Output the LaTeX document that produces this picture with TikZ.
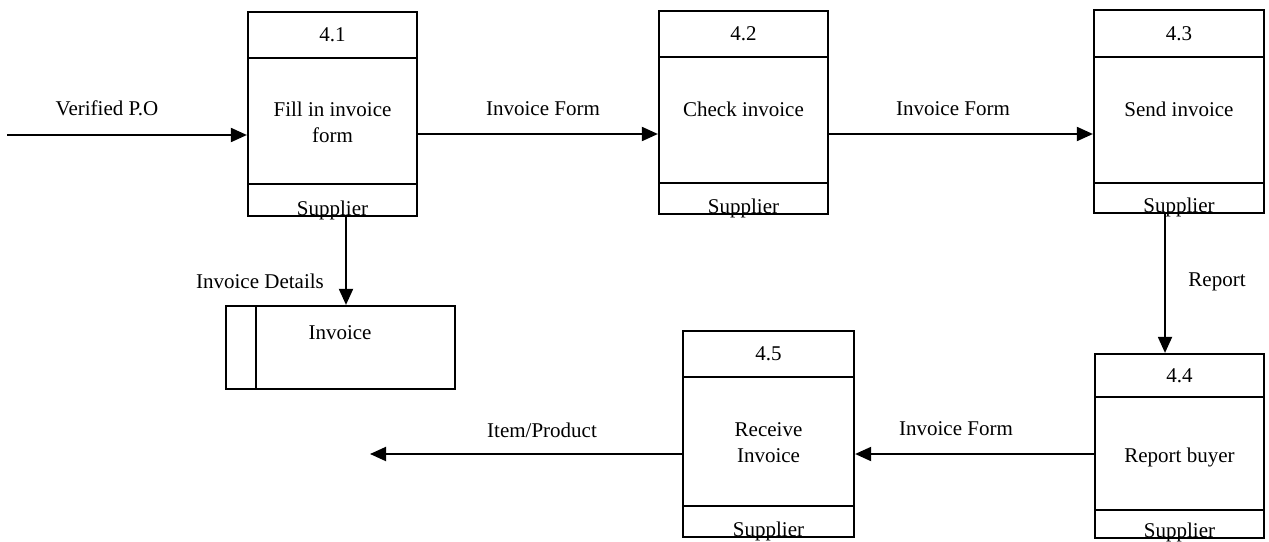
\documentclass[tikz,border=0pt]{standalone}
\usepackage{fontspec}
\setmainfont{Liberation Serif}
\usetikzlibrary{arrows.meta,fit}

\tikzset{
  boxline/.style={line width=2.2pt},
  flow/.style={line width=1.9pt, -{Triangle[length=16pt,width=14pt]}},
  lbl/.style={font=\fontsize{21}{26}\selectfont, inner sep=0pt, align=center},
}

% process box: name, left, right, top, first divider, second divider, bottom, number
\newcommand\dfdproc[8]{%
  \node[fit={(#2,#4) (#3,#7)}, inner sep=0pt, draw, boxline] (#1) {};
  \draw[boxline] (#2,#5) -- (#3,#5) (#2,#6) -- (#3,#6);
  \node[lbl] (#1-num) at ({(#2+#3)/2},{(#4+#5)/2}) {#8};
  \node[lbl, anchor=base] (#1-who) at ({(#2+#3)/2},{#7-1}) {Supplier};
}

\begin{document}
\begin{tikzpicture}[x=1pt, y=-1pt]
  \fill[white] (0,0) rectangle (1269,541);
  \useasboundingbox (0,0) rectangle (1269,541);

  % processes
  \dfdproc{p41}{248}{417}{12}{58}{184}{216}{4.1}
  \dfdproc{p42}{659}{828}{11}{57}{183}{214}{4.2}
  \dfdproc{p43}{1094}{1264}{10}{57}{183}{213}{4.3}
  \dfdproc{p44}{1095}{1264}{354}{397}{510}{538}{4.4}
  \dfdproc{p45}{683}{854}{331}{377}{506}{537}{4.5}

  \node[lbl] (t41) at (332.5,122) {Fill in invoice\\form};
  \node[lbl, anchor=base] (t42) at (743.5,116) {Check invoice};
  \node[lbl, anchor=base] (t43) at (1179,116) {Send invoice};
  \node[lbl, anchor=base] (t44) at (1179.5,462) {Report buyer};
  \node[lbl] (t45) at (768.5,443) {Receive\\Invoice};

  % data store
  \node[fit={(226,306) (455,389)}, inner sep=0pt, draw, boxline] (store) {};
  \draw[boxline] (256,306) -- (256,389);
  \node[lbl, anchor=base] (storename) at (340,339) {Invoice};

  % flow levels
  \coordinate (rowtop) at (0,134);
  \coordinate (rowlow) at (0,454);
  \coordinate (colA) at (346,0);
  \coordinate (colB) at (1165,0);
  \coordinate (src) at (7,135);
  \coordinate (sink) at (370,454);

  % data flows
  \draw[flow] (src) -- (src -| p41.west);
  \draw[flow] (p41.east |- rowtop) -- (p42.west |- rowtop);
  \draw[flow] (p42.east |- rowtop) -- (p43.west |- rowtop);
  \draw[flow] (p41.south -| colA) -- (store.north -| colA);
  \draw[flow] (p43.south -| colB) -- (p44.north -| colB);
  \draw[flow] (p44.west |- rowlow) -- (p45.east |- rowlow);
  \draw[flow] (p45.west |- rowlow) -- (sink);

  % flow labels
  \node[lbl, anchor=base] (fVerified) at (107,115) {Verified P.O};
  \node[lbl, anchor=base] (fForm1) at (543,115) {Invoice Form};
  \node[lbl, anchor=base] (fForm2) at (953,115) {Invoice Form};
  \node[lbl, anchor=base] (fDetails) at (260,288) {Invoice Details};
  \node[lbl, anchor=base] (fReport) at (1217,286) {Report};
  \node[lbl, anchor=base] (fForm3) at (956,435) {Invoice Form};
  \node[lbl, anchor=base] (fItem) at (542,437) {Item/Product};
\end{tikzpicture}
\end{document}
